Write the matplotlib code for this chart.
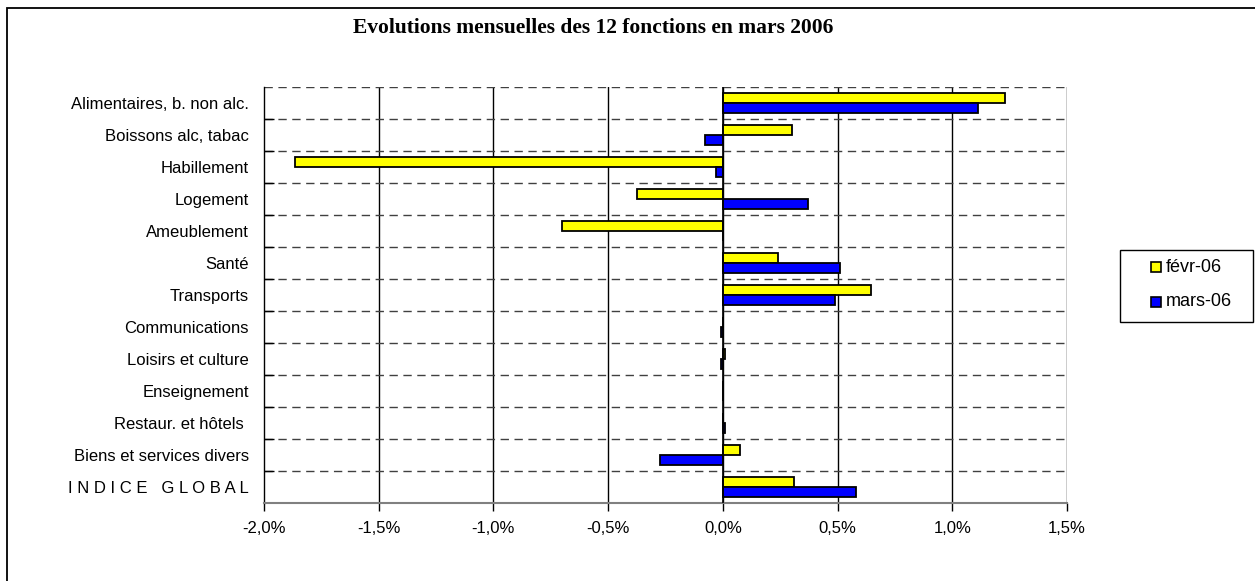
import numpy as np
import matplotlib.pyplot as plt
from matplotlib.patches import Rectangle

categories = ['Alimentaires, b. non alc.', 'Boissons alc, tabac', 'Habillement',
              'Logement', 'Ameublement', 'Santé', 'Transports', 'Communications',
              'Loisirs et culture', 'Enseignement', 'Restaur. et hôtels ',
              'Biens et services divers', 'I N D I C E   G L O B A L']
fevr = [1.23, 0.30, -1.865, -0.375, -0.70, 0.24, 0.645, 0.0, 0.01, 0.0, 0.0, 0.075, 0.31]
mars = [1.11, -0.08, -0.03, 0.37, 0.0, 0.51, 0.49, -0.01, -0.01, 0.0, 0.01, -0.275, 0.58]
series_names = ['févr-06', 'mars-06']
series_colors = ['#ffff00', '#0000ff']
xticks = [-2.0, -1.5, -1.0, -0.5, 0.0, 0.5, 1.0, 1.5]
xtick_labels = ['-2,0%', '-1,5%', '-1,0%', '-0,5%', '0,0%', '0,5%', '1,0%', '1,5%']

plt.rcParams['font.family'] = ['Liberation Sans', 'DejaVu Sans']

W, H = 1255, 581
fig = plt.figure(figsize=(W / 100, H / 100), dpi=100)
# outer frame of the chart (only left and top edges fall inside the picture)
fig.patches.append(Rectangle((7 / W, -0.2), 1.2, 1.2 - 8 / H, transform=fig.transFigure,
                             fill=False, edgecolor='black', linewidth=1.3))

ax = fig.add_axes([264 / W, 1 - 503 / H, (1067 - 264) / W, (503 - 87) / H])

y = np.arange(len(categories))
h = 0.3
ax.barh(y - h / 2, fevr, height=h, color=series_colors[0], edgecolor='black', linewidth=1.3,
        zorder=3)
ax.barh(y + h / 2, mars, height=h, color=series_colors[1], edgecolor='black', linewidth=1.3,
        zorder=3)

ax.set_xlim(-2.0, 1.5)
ax.set_ylim(len(categories) - 0.5, -0.5)

# grid
for xv in xticks[1:]:
    ax.axvline(xv, color='black', linewidth=1.0, zorder=1)
for yb in np.arange(-0.5, len(categories) - 0.5, 1.0):
    ax.axhline(yb, color='#404040', linewidth=1.0, dashes=(6, 4), zorder=1)
ax.axvline(0, color='black', linewidth=1.2, zorder=4)

for s in ['top', 'right']:
    ax.spines[s].set_visible(False)
ax.spines['left'].set_color('black')
ax.spines['left'].set_linewidth(1.0)
ax.spines['bottom'].set_color('#808080')
ax.spines['bottom'].set_linewidth(1.5)

ax.set_xticks(xticks)
ax.set_xticklabels(xtick_labels, fontsize=12)
ax.tick_params(axis='x', direction='out', length=6, width=1, color='black', pad=7)

ax.set_yticks(y)
ax.set_yticklabels(categories, fontsize=12)
ax.tick_params(axis='y', which='major', length=0, pad=11)
ax.set_yticks(np.arange(0.5, len(categories) - 0.5, 1.0), minor=True)
ax.tick_params(axis='y', which='minor', direction='in', length=7, width=1, color='black')

fig.text(593 / W, 1 - 28 / H, 'Evolutions mensuelles des 12 fonctions en mars 2006',
         ha='center', va='center', fontsize=15.5, fontweight='bold',
         family=['Liberation Serif', 'DejaVu Serif'])

# legend box
fig.patches.append(Rectangle((1120 / W, 1 - 322 / H), (1253 - 1120) / W, 72 / H,
                             transform=fig.transFigure, fill=False,
                             edgecolor='black', linewidth=1.0))
for k, (name, col) in enumerate(zip(series_names, series_colors)):
    yc = 267 + 35 * k
    fig.patches.append(Rectangle((1151 / W, 1 - (yc + 5) / H), 10 / W, 10 / H,
                                 transform=fig.transFigure, facecolor=col,
                                 edgecolor='black', linewidth=1.2))
    fig.text(1166 / W, 1 - yc / H, name, ha='left', va='center', fontsize=13)

fig.savefig('out.png', dpi=100)
